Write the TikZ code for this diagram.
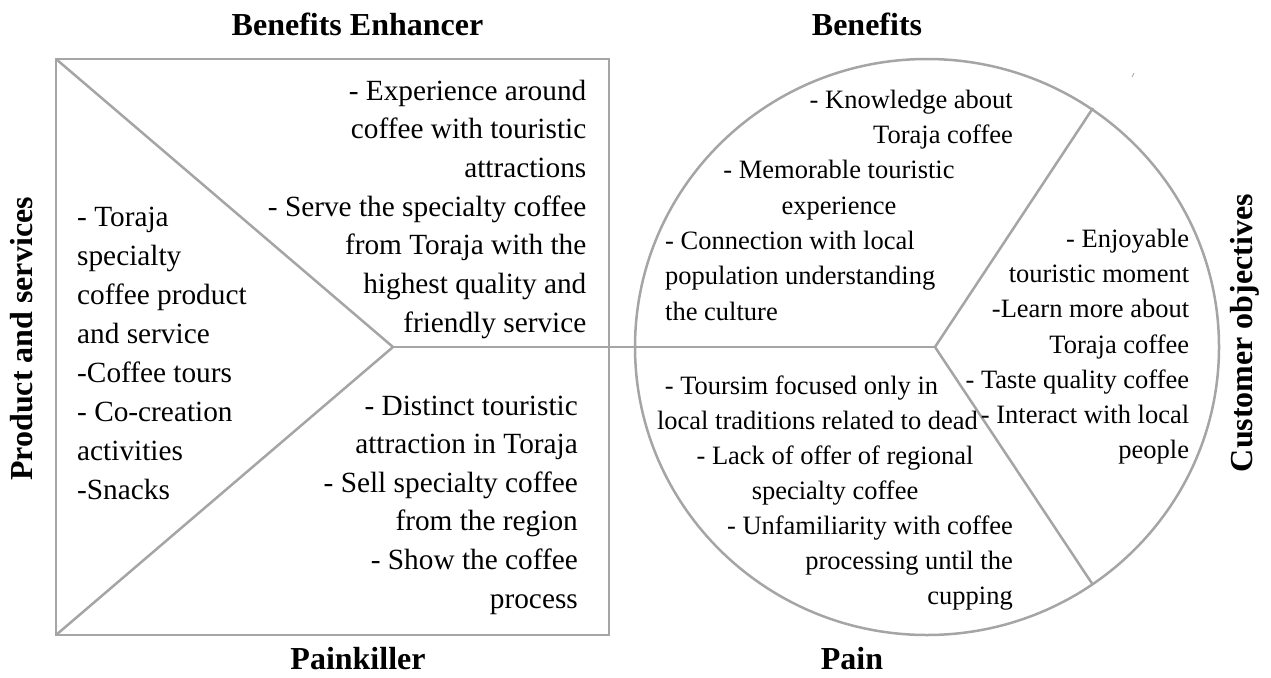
\documentclass[tikz,border=0pt]{standalone}
\usepackage{fontspec}
\setmainfont{Liberation Serif}
\definecolor{linegray}{RGB}{165,165,165}
\begin{document}
\begin{tikzpicture}[x=1pt,y=-1pt,
  frame/.style={draw=linegray, line width=2.5pt, line join=miter},
  boxtxt/.style={font=\fontsize{29.3}{39}\selectfont, inner sep=0pt},
  circtxt/.style={font=\fontsize{26.5}{35}\selectfont, inner sep=0pt},
  title/.style={font=\fontsize{32}{38}\selectfont\bfseries, inner sep=0pt}]
\useasboundingbox (0,0) rectangle (1271,677);
% geometry
\coordinate (tl) at (56,59);
\coordinate (tr) at (609,59);
\coordinate (br) at (609,635);
\coordinate (bl) at (56,635);
\coordinate (apexA) at (393,347);
\coordinate (apexB) at (935,347);
\coordinate (cc) at (927,347);
\coordinate (up) at (1093,108);
\coordinate (lo) at (1093,585);
\draw[frame] (tl) -- (tr) -- (br) -- (bl) -- cycle;
\draw[frame] (tl) -- (apexA) -- (bl);
\draw[frame] (cc) ellipse [x radius=292pt, y radius=288pt];
\draw[frame] (apexA) -- (apexB);
\draw[frame] (up) -- (apexB) -- (lo);
\coordinate (mk1) at (1132,77);
\coordinate (mk2) at (1134,73);
\draw[linegray, line width=0.8pt] (mk1) -- (mk2);
% titles
\node[title, anchor=base] (tBE) at (357.5,36) {Benefits Enhancer};
\node[title, anchor=base] (tB) at (867,36) {Benefits};
\node[title, anchor=base, text depth=0pt] (tPK) at (358,669) {Painkiller};
\node[title, anchor=base, text depth=0pt] (tP) at (852,669) {Pain};
\node[title, anchor=base, rotate=90] (tPS) at (32,339) {Product and services};
\node[title, anchor=base, rotate=90] (tCO) at (1252,333) {Customer objectives};
% product and services
\foreach \t [count=\i] in {- Toraja, specialty, coffee product, and service, -Coffee tours, - Co-creation, activities, -Snacks}
  \node[boxtxt, anchor=base west] (ps\i) at (77,{226.7+38.9*(\i-1)}) {\t};
% benefits enhancer
\foreach \t [count=\i] in {- Experience around, coffee with touristic, attractions, - Serve the specialty coffee, from Toraja with the, highest quality and, friendly service}
  \node[boxtxt, anchor=base east] (be\i) at (586.5,{100+38.7*(\i-1)}) {\t};
% painkiller
\foreach \t [count=\i] in {- Distinct touristic, attraction in Toraja, - Sell specialty coffee, from the region, - Show the coffee, process}
  \node[boxtxt, anchor=base east] (pk\i) at (578,{415+38.6*(\i-1)}) {\t};
% benefits
\node[circtxt, anchor=base east] (bn1) at (1013,108.3) {- Knowledge about};
\node[circtxt, anchor=base east] (bn2) at (1013,143.6) {Toraja coffee};
\node[circtxt, anchor=base] (bn3) at (839,178.9) {- Memorable touristic};
\node[circtxt, anchor=base] (bn4) at (839,214.2) {experience};
\node[circtxt, anchor=base west] (bn5) at (665,249.5) {- Connection with local};
\node[circtxt, anchor=base west] (bn6) at (665,284.8) {population understanding};
\node[circtxt, anchor=base west] (bn7) at (665,320.1) {the culture};
% pain
\node[circtxt, anchor=base] (pn1) at (801.5,394.3) {- Toursim focused only in};
\node[circtxt, anchor=base] (pn2) at (817.5,429.4) {local traditions related to dead};
\node[circtxt, anchor=base] (pn3) at (835,464.5) {- Lack of offer of regional};
\node[circtxt, anchor=base] (pn4) at (835,499.6) {specialty coffee};
\node[circtxt, anchor=base east] (pn5) at (1013,534.7) {- Unfamiliarity with coffee};
\node[circtxt, anchor=base east] (pn6) at (1013,569.8) {processing until the};
\node[circtxt, anchor=base east] (pn7) at (1013,604.9) {cupping};
% customer objectives
\foreach \t [count=\i] in {- Enjoyable, touristic moment, -Learn more about, Toraja coffee, - Taste quality coffee, - Interact with local, people}
  \node[circtxt, anchor=base east] (co\i) at (1189.3,{247.7+35.1*(\i-1)}) {\t};
\end{tikzpicture}
\end{document}
